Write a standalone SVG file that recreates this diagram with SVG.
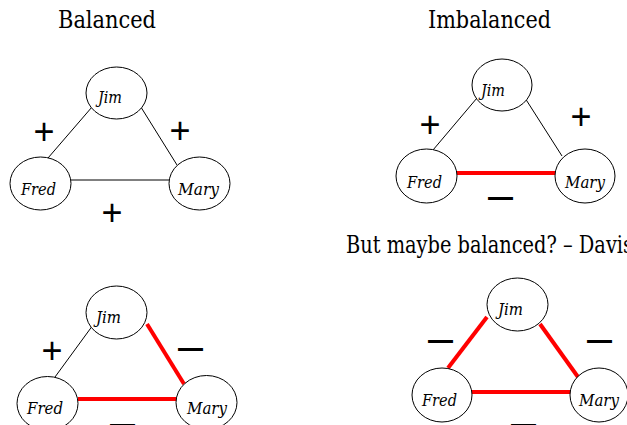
<svg xmlns="http://www.w3.org/2000/svg" width="627" height="425" viewBox="0 0 627 425">
<style>
.node ellipse{fill:#fff;stroke:#000;stroke-width:1}
.name{font-family:'DejaVu Serif Condensed','DejaVu Serif',serif;font-style:italic;font-size:17px;fill:#000}
.title{font-family:'DejaVu Serif Condensed','DejaVu Serif',serif;font-size:24px;fill:#000}
.pos{font-family:'Liberation Sans',Arial,sans-serif;font-size:36px;text-anchor:middle;fill:#000}
.neg{font-family:'Liberation Sans',Arial,sans-serif;font-size:45px;text-anchor:middle;fill:#000}
.e{stroke:#000;stroke-width:1}
.r{stroke:#ff0000;stroke-width:4}
</style>
<rect width="627" height="425" fill="#fff"/>
<g id="titles">
<text class="title" x="58" y="28" textLength="98" lengthAdjust="spacingAndGlyphs">Balanced</text>
<text class="title" x="428" y="28" textLength="123" lengthAdjust="spacingAndGlyphs">Imbalanced</text>
<text class="title" x="346" y="253" font-size="22" textLength="287" lengthAdjust="spacingAndGlyphs">But maybe balanced? – Davis</text>
</g>
<g id="connectors">
<line class="e" x1="92" y1="107" x2="48" y2="158"/>
<line class="e" x1="139" y1="104" x2="177" y2="165"/>
<line class="e" x1="71" y1="180" x2="169" y2="180"/>
<line class="e" x1="477" y1="98" x2="433" y2="150"/>
<line class="e" x1="525" y1="98" x2="562" y2="156"/>
<line class="r" x1="457" y1="173" x2="555" y2="173"/>
<line class="e" x1="93" y1="325" x2="55" y2="377"/>
<line class="r" x1="147" y1="324" x2="184" y2="384"/>
<line class="r" x1="78" y1="399" x2="177" y2="399"/>
<line class="r" x1="487" y1="317" x2="448" y2="368"/>
<line class="r" x1="540" y1="324" x2="578" y2="377"/>
<line class="r" x1="472" y1="392" x2="571" y2="392"/>
</g>
<g id="signs">
<text class="pos" x="44" y="144">+</text>
<text class="pos" x="180" y="143">+</text>
<text class="pos" x="112" y="224.5">+</text>
<text class="pos" x="430" y="136.5">+</text>
<text class="pos" x="581" y="128.5">+</text>
<text class="neg" x="500.5" y="210">–</text>
<text class="pos" x="52" y="362.5">+</text>
<text class="neg" x="190.5" y="360.5">–</text>
<text class="neg" x="122.5" y="437">–</text>
<text class="neg" x="440.5" y="352.5">–</text>
<text class="neg" x="599.5" y="352.5">–</text>
<text class="neg" x="523.5" y="436.5">–</text>
</g>
<g id="p1-jim" class="node"><ellipse cx="116.5" cy="93" rx="30.5" ry="26"/><text class="name" x="98" y="103" textLength="24" lengthAdjust="spacingAndGlyphs">Jim</text></g>
<g id="p1-fred" class="node"><ellipse cx="40.5" cy="183.5" rx="30.5" ry="26.5"/><text class="name" x="21" y="195" textLength="35" lengthAdjust="spacingAndGlyphs">Fred</text></g>
<g id="p1-mary" class="node"><ellipse cx="199.5" cy="183.5" rx="30.5" ry="26.5"/><text class="name" x="178" y="195" textLength="41" lengthAdjust="spacingAndGlyphs">Mary</text></g>
<g id="p2-jim" class="node"><ellipse cx="502" cy="85" rx="30" ry="26"/><text class="name" x="481" y="96" textLength="24" lengthAdjust="spacingAndGlyphs">Jim</text></g>
<g id="p2-fred" class="node"><ellipse cx="426.5" cy="176" rx="30.5" ry="27"/><text class="name" x="407" y="188" textLength="35" lengthAdjust="spacingAndGlyphs">Fred</text></g>
<g id="p2-mary" class="node"><ellipse cx="585" cy="176" rx="30" ry="27"/><text class="name" x="565" y="188" textLength="40" lengthAdjust="spacingAndGlyphs">Mary</text></g>
<g id="p3-jim" class="node"><ellipse cx="116.5" cy="312.5" rx="30.5" ry="26.5"/><text class="name" x="96" y="323" textLength="25" lengthAdjust="spacingAndGlyphs">Jim</text></g>
<g id="p3-fred" class="node"><ellipse cx="47.5" cy="403.5" rx="30.5" ry="27"/><text class="name" x="27" y="414" textLength="36" lengthAdjust="spacingAndGlyphs">Fred</text></g>
<g id="p3-mary" class="node"><ellipse cx="206.5" cy="402.5" rx="30.5" ry="27"/><text class="name" x="187" y="414" textLength="40" lengthAdjust="spacingAndGlyphs">Mary</text></g>
<g id="p4-jim" class="node"><ellipse cx="517.5" cy="304.5" rx="30.5" ry="26.5"/><text class="name" x="498" y="315" textLength="25" lengthAdjust="spacingAndGlyphs">Jim</text></g>
<g id="p4-fred" class="node"><ellipse cx="442" cy="395" rx="30" ry="27"/><text class="name" x="422" y="406" textLength="35" lengthAdjust="spacingAndGlyphs">Fred</text></g>
<g id="p4-mary" class="node"><ellipse cx="599" cy="395" rx="29" ry="27"/><text class="name" x="579" y="406" textLength="40" lengthAdjust="spacingAndGlyphs">Mary</text></g>
</svg>
